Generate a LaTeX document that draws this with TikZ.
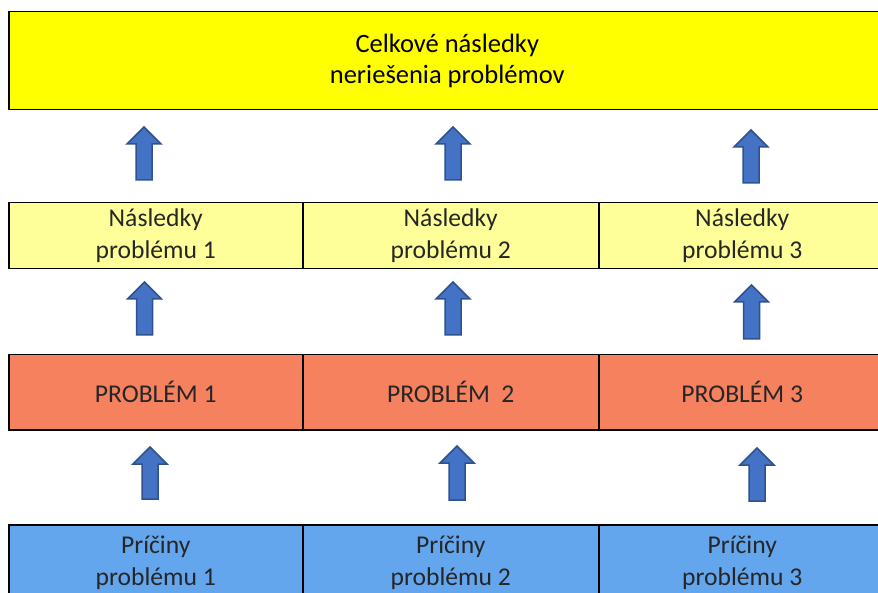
\documentclass[tikz,border=0pt]{standalone}
\usepackage{fontspec}
\setmainfont{Carlito}
\definecolor{topyel}{HTML}{FFFF00}
\definecolor{lightyel}{HTML}{FFFF99}
\definecolor{probred}{HTML}{F6815F}
\definecolor{causeblue}{HTML}{63A6EE}
\definecolor{arrfill}{HTML}{4472C4}
\definecolor{arrline}{HTML}{2F528F}
\definecolor{txtgray}{HTML}{262626}
\tikzset{
  cell/.style={draw=black, line width=1.5pt, anchor=north west, inner sep=0pt, align=center,
    font=\fontsize{25.6}{32}\selectfont, text=txtgray},
  blockarr/.style={fill=arrfill, draw=arrline, line width=1.5pt, line join=miter},
}
\newcommand\uparr[3]{%
  \draw[blockarr] (#1-8,#3) -- (#1-8,#2+17) -- (#1-17,#2+17) -- (#1,#2) -- (#1+17,#2+17) -- (#1+8,#2+17) -- (#1+8,#3) -- cycle;}
\begin{document}
\begin{tikzpicture}[x=1pt,y=-1pt]
\clip (0,0) rectangle (878,593);
\fill[white] (0,0) rectangle (878,593);
% top box
\node[cell, fill=topyel, minimum width=877pt, minimum height=98pt, text=black,
  font=\fontsize{26.5}{31}\selectfont] (total) at (8,11) {Celkové následky\\neriešenia problémov};
% row 2
\node[cell, fill=lightyel, minimum width=294pt, minimum height=66pt] (n1) at (8,202) {Následky\\problému 1};
\node[cell, fill=lightyel, minimum width=296pt, minimum height=66pt] (n2) at (302,202) {Následky\\problému 2};
\node[cell, fill=lightyel, minimum width=287pt, minimum height=66pt] (n3) at (598,202) {Následky\\problému 3};
% row 3
\node[cell, fill=probred, minimum width=294pt, minimum height=75pt] (p1) at (8,354) {PROBLÉM 1};
\node[cell, fill=probred, minimum width=296pt, minimum height=75pt] (p2) at (302,354) {PROBLÉM\ \ 2};
\node[cell, fill=probred, minimum width=287pt, minimum height=75pt] (p3) at (598,354) {PROBLÉM 3};
% row 4
\node[cell, fill=causeblue, minimum width=294pt, minimum height=77pt] (c1) at (8,524) {Príčiny\\problému 1};
\node[cell, fill=causeblue, minimum width=296pt, minimum height=77pt] (c2) at (302,524) {Príčiny\\problému 2};
\node[cell, fill=causeblue, minimum width=287pt, minimum height=77pt] (c3) at (598,524) {Príčiny\\problému 3};
% arrows
\uparr{144}{127}{180}
\uparr{453}{127}{180}
\uparr{751}{130}{183}
\uparr{144.5}{282}{335}
\uparr{453}{282}{335}
\uparr{751.5}{285}{339}
\uparr{150}{447}{499}
\uparr{457}{446}{500}
\uparr{757}{448}{501}
\end{tikzpicture}
\end{document}
